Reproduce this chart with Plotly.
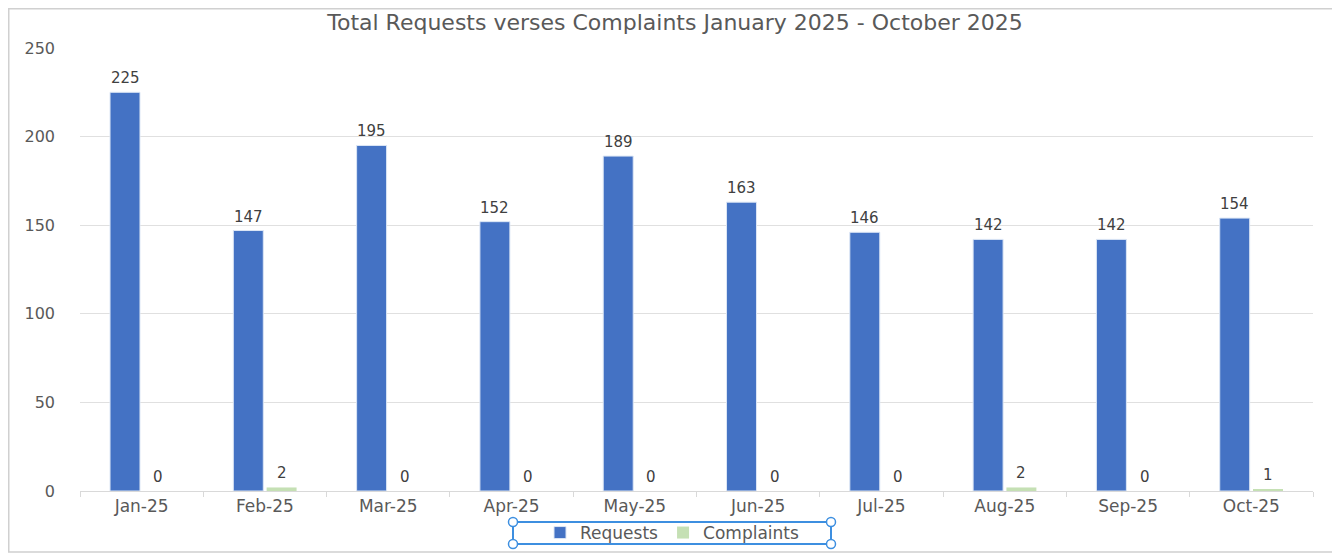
import plotly.graph_objects as go

months = ["Jan-25", "Feb-25", "Mar-25", "Apr-25", "May-25", "Jun-25", "Jul-25", "Aug-25", "Sep-25", "Oct-25"]
requests = [225, 147, 195, 152, 189, 163, 146, 142, 142, 154]
complaints = [0, 2, 0, 0, 0, 0, 0, 2, 0, 1]
y_ticks = [0, 50, 100, 150, 200, 250]

FONT = "DejaVu Sans"
GREY = "#595959"

OFF = 8  # default page body margin
L, R, T, B = 72, 27, 40, 62
W, H = 1332, 545
pw, ph = W - L - R, H - T - B

BARGAP, GROUPGAP = 0.46, 0.1
slot_px = pw / len(months) * (1 - BARGAP) / 2

fig = go.Figure()
fig.add_trace(go.Bar(
    x=months, y=requests, name="Requests",
    marker=dict(color="#4472C4", line=dict(color="#DCE6F5", width=1)),
))
fig.add_trace(go.Bar(
    x=months, y=complaints, name="Complaints",
    marker=dict(color="#C5E0B4", line=dict(width=0)),
))

annotations = []
for series, shift in ((requests, -slot_px / 2), (complaints, slot_px / 2)):
    for m, v in zip(months, series):
        annotations.append(dict(
            x=m, y=v, xref="x", yref="y", text=str(v), showarrow=False,
            xshift=shift, yshift=14, yanchor="middle",
            font=dict(family=FONT, size=15, color="#404040"),
        ))


def px(xp):
    return (xp - OFF - L) / pw


def py(yp):
    return (H - B - (yp - OFF)) / ph


shapes = [
    dict(type="rect", xref="paper", yref="paper",
         x0=px(OFF + 0.75), x1=px(1336), y0=py(552), y1=py(OFF + 0.75),
         line=dict(color="#D0D0D0", width=1.5), fillcolor="rgba(0,0,0,0)", layer="below"),
    dict(type="rect", xref="paper", yref="paper",
         x0=px(513), x1=px(831), y0=py(544), y1=py(522),
         line=dict(color="#3D8FE0", width=2), fillcolor="rgba(0,0,0,0)"),
]
for cx in (513, 831):
    for cy in (522, 544):
        shapes.append(dict(type="circle", xref="paper", yref="paper",
                           x0=px(cx - 4.5), x1=px(cx + 4.5), y0=py(cy + 4.5), y1=py(cy - 4.5),
                           line=dict(color="#3D8FE0", width=1.5), fillcolor="white"))

fig.update_layout(
    width=W, height=H,
    margin=dict(l=L, r=R, t=T, b=B, autoexpand=False),
    paper_bgcolor="white", plot_bgcolor="white",
    title=dict(text="Total Requests verses Complaints January 2025 - October 2025",
               x=(675 - OFF) / W, xanchor="center", y=1 - (22 - OFF) / H, yanchor="middle",
               font=dict(family=FONT, size=22, color=GREY)),
    barmode="group", bargap=BARGAP, bargroupgap=GROUPGAP,
    showlegend=True,
    legend=dict(orientation="h", xref="container", yref="container",
                x=(672 - OFF) / W, xanchor="center", y=1 - (533 - OFF) / H, yanchor="middle",
                font=dict(family=FONT, size=17, color=GREY), bgcolor="rgba(0,0,0,0)",
                itemwidth=30, tracegroupgap=0),
    xaxis=dict(tickfont=dict(family=FONT, size=17, color=GREY), automargin=False,
               showline=True, linecolor="#D9D9D9", linewidth=1,
               ticks="outside", tickson="boundaries", tickcolor="#D9D9D9", ticklen=5,
               showgrid=False),
    yaxis=dict(range=[0, 250], tickvals=y_ticks, automargin=False,
               tickfont=dict(family=FONT, size=16, color=GREY),
               showgrid=True, gridcolor="#E0E0E0", gridwidth=1,
               zeroline=False, showline=False, ticks="", ticklabelstandoff=24),
    shapes=shapes,
    annotations=annotations,
)

fig.write_html("out.html")
